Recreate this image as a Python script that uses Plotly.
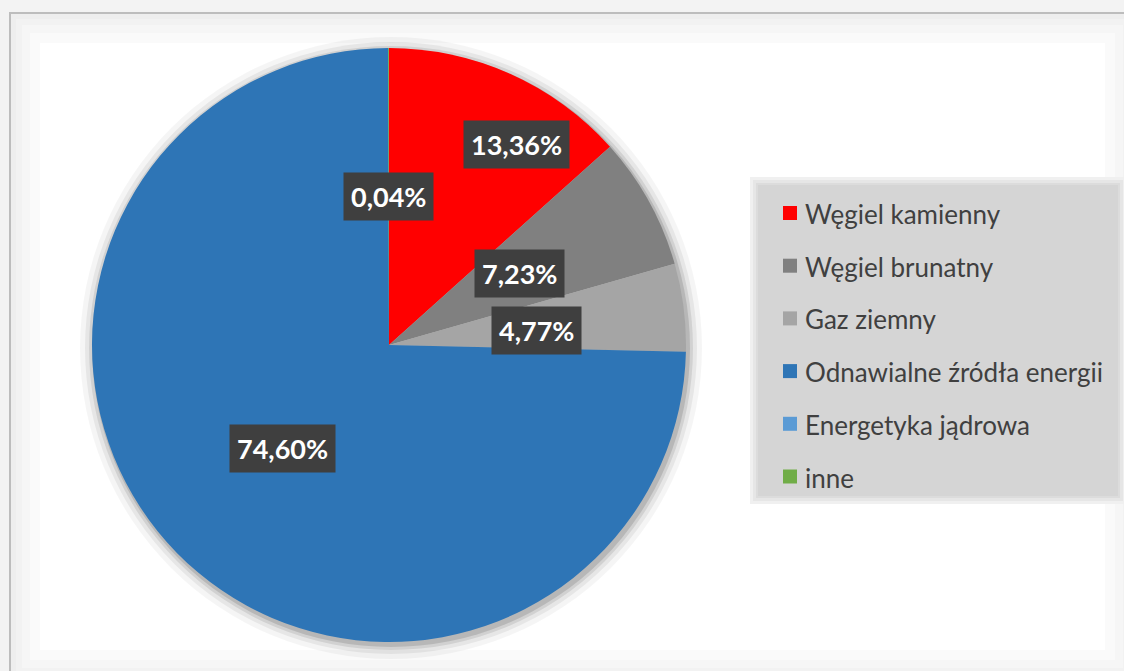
import math
import plotly.graph_objects as go

# ---- data ----
categories = ["Węgiel kamienny", "Węgiel brunatny", "Gaz ziemny",
              "Odnawialne źródła energii", "Energetyka jądrowa", "inne"]
shares = [13.36, 7.23, 4.77, 74.60, 0.00, 0.04]
colors = ["#FF0000", "#808080", "#A5A5A5", "#2E75B6", "#5B9BD5", "#70AD47"]

# label placement (fraction of radius, angular shift in degrees)
label_rfrac = [0.80, 0.50, 0.50, 0.50, 0.50, 0.50]
label_shift = [8.5, 0.0, 1.5, 0.0, 0.0, 0.0]

W, H = 1124, 671
CX, CY, R = 389, 345, 297


def px(x):
    return x / W


def py(y):
    return 1 - y / H


fig = go.Figure()

fig.add_trace(go.Pie(
    labels=categories, values=shares, sort=False, direction="clockwise",
    rotation=0, marker=dict(colors=colors, line=dict(width=0)),
    textinfo="none", hoverinfo="label+percent", showlegend=False,
    domain=dict(x=[px(CX - R), px(CX + R)], y=[py(CY + R), py(CY - R)]),
))

shapes = []
# background frame
shapes.append(dict(type="rect", xref="paper", yref="paper", x0=px(10), x1=px(1135),
                   y0=py(690), y1=py(13), line=dict(color="#BDBDBD", width=2),
                   fillcolor="#EEEEEE", layer="below"))
for inset, col in [(6, "#F2F2F2"), (12, "#F6F6F6"), (20, "#FAFAFA"), (30, "#FFFFFF")]:
    shapes.append(dict(type="rect", xref="paper", yref="paper",
                       x0=px(10 + inset), x1=px(1135 - inset),
                       y0=py(690 - inset - 10), y1=py(13 + inset),
                       line=dict(width=0), fillcolor=col, layer="below"))
# pie shadow
for d, a in [(14, 0.04), (9, 0.06), (5, 0.09), (2, 0.12)]:
    shapes.append(dict(type="circle", xref="paper", yref="paper",
                       x0=px(CX - R - d + 2), x1=px(CX + R + d + 2),
                       y0=py(CY + R + d + 3), y1=py(CY - R - d + 3),
                       line=dict(width=0), fillcolor=f"rgba(0,0,0,{a})", layer="below"))
# legend box (soft edges)
LX0, LX1, LY0, LY1 = 758, 1118, 185, 496
for d, col in [(8, "#F0F0F0"), (5, "#E6E6E6"), (2, "#DCDCDC"), (0, "#D5D5D5")]:
    shapes.append(dict(type="rect", xref="paper", yref="paper",
                       x0=px(LX0 - d), x1=px(LX1 + d), y0=py(LY1 + d), y1=py(LY0 - d),
                       line=dict(width=0), fillcolor=col, layer="below"))

annotations = []
# legend entries
ITEM_Y0, ITEM_DY = 213, 52.7
for i, (cat, col) in enumerate(zip(categories, colors)):
    yc = ITEM_Y0 + i * ITEM_DY
    shapes.append(dict(type="rect", xref="paper", yref="paper",
                       x0=px(783), x1=px(797), y0=py(yc + 7), y1=py(yc - 7),
                       line=dict(width=0), fillcolor=col, layer="above"))
    annotations.append(dict(xref="paper", yref="paper", x=px(803), y=py(yc + 1),
                            xanchor="left", yanchor="middle", showarrow=False,
                            text=cat, font=dict(family="Lato", size=26, color="#404040")))

# data labels
total = sum(shares)
cum = 0.0
for i, v in enumerate(shares):
    mid = (cum + v / 2) / total * 360.0
    cum += v
    if v <= 0:
        continue
    ang = math.radians(mid + label_shift[i])
    r = R * label_rfrac[i]
    x = CX + r * math.sin(ang)
    y = CY - r * math.cos(ang)
    txt = f"{v:.2f}%".replace(".", ",")
    annotations.append(dict(xref="paper", yref="paper", x=px(x), y=py(y),
                            xanchor="center", yanchor="middle", showarrow=False,
                            text=f"<b>{txt}</b>", bgcolor="#3F3F3F", borderpad=7,
                            font=dict(family="Lato", size=27, color="#FFFFFF")))

fig.update_layout(
    width=W, height=H, margin=dict(l=0, r=0, t=0, b=0),
    paper_bgcolor="#F3F3F3", plot_bgcolor="#F3F3F3",
    shapes=shapes, annotations=annotations, showlegend=False,
)

fig.write_html(
    "out.html",
    config={"displayModeBar": False},
    post_script="document.body.style.margin='0px';"
                "document.body.style.background='#F3F3F3';"
                "document.body.style.overflow='hidden';",
)
